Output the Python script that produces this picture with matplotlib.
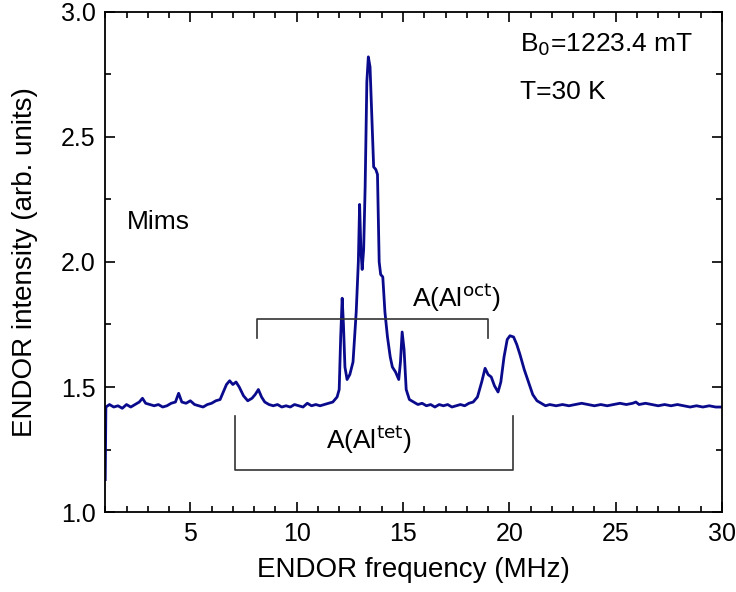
import numpy as np
import matplotlib.pyplot as plt

plt.rcParams['font.family'] = ['Liberation Sans', 'DejaVu Sans']

# spectrum
freq = [1.0, 1.03, 1.2, 1.4, 1.6, 1.8, 2.0, 2.2, 2.4, 2.6, 2.75, 2.9, 3.1, 3.3, 3.5, 3.7, 3.9,
        4.1, 4.3, 4.45, 4.6, 4.8, 5.0, 5.2, 5.4, 5.6, 5.8, 6.0, 6.2, 6.4, 6.55, 6.7, 6.85,
        7.0, 7.15, 7.3, 7.5, 7.7, 7.9, 8.05, 8.2, 8.35, 8.5, 8.7, 8.9, 9.1, 9.3, 9.5, 9.7,
        9.9, 10.1, 10.3, 10.5, 10.7, 10.9, 11.1, 11.3, 11.5, 11.7, 11.9, 12.0, 12.07, 12.14,
        12.2, 12.27, 12.37, 12.5, 12.65, 12.8, 12.9, 12.96, 13.02, 13.08, 13.15, 13.22,
        13.3, 13.37, 13.45, 13.55, 13.62, 13.72, 13.8, 13.88, 13.95, 14.05, 14.15, 14.27,
        14.4, 14.5, 14.65, 14.8, 14.88, 14.96, 15.05, 15.15, 15.3, 15.5, 15.7, 15.9, 16.1,
        16.3, 16.5, 16.7, 16.9, 17.1, 17.3, 17.5, 17.7, 17.9, 18.1, 18.3, 18.5, 18.7, 18.86,
        19.0, 19.15, 19.3, 19.47, 19.6, 19.75, 19.9, 20.03, 20.2, 20.35, 20.5, 20.7, 20.9,
        21.1, 21.3, 21.5, 21.7, 21.9, 22.2, 22.5, 22.8, 23.1, 23.4, 23.7, 24.0, 24.3, 24.6,
        24.9, 25.2, 25.5, 25.8, 25.95, 26.1, 26.4, 26.7, 27.0, 27.3, 27.6, 27.9, 28.2, 28.5,
        28.8, 29.1, 29.4, 29.7, 30.0]
intensity = [1.13, 1.42, 1.43, 1.42, 1.425, 1.415, 1.43, 1.42, 1.43, 1.44, 1.455, 1.435, 1.43,
             1.425, 1.43, 1.42, 1.425, 1.435, 1.44, 1.475, 1.44, 1.435, 1.445, 1.43, 1.425,
             1.42, 1.43, 1.435, 1.445, 1.45, 1.48, 1.51, 1.525, 1.51, 1.52, 1.5, 1.465, 1.445,
             1.455, 1.47, 1.49, 1.46, 1.44, 1.43, 1.425, 1.43, 1.42, 1.425, 1.42, 1.43, 1.425,
             1.42, 1.435, 1.425, 1.43, 1.425, 1.43, 1.435, 1.44, 1.46, 1.49, 1.7, 1.855, 1.75,
             1.58, 1.53, 1.55, 1.6, 1.8, 2.0, 2.23, 2.05, 1.97, 2.05, 2.3, 2.72, 2.82, 2.78,
             2.55, 2.38, 2.37, 2.35, 2.0, 1.95, 1.94, 1.8, 1.7, 1.62, 1.58, 1.56, 1.53, 1.6,
             1.72, 1.65, 1.49, 1.45, 1.44, 1.43, 1.435, 1.425, 1.43, 1.42, 1.43, 1.425, 1.43,
             1.42, 1.425, 1.43, 1.425, 1.435, 1.44, 1.46, 1.52, 1.575, 1.55, 1.54, 1.505, 1.48,
             1.52, 1.62, 1.69, 1.705, 1.70, 1.67, 1.63, 1.57, 1.52, 1.47, 1.445, 1.435, 1.425,
             1.43, 1.425, 1.43, 1.425, 1.43, 1.435, 1.43, 1.425, 1.43, 1.425, 1.43, 1.435,
             1.43, 1.435, 1.44, 1.43, 1.435, 1.43, 1.425, 1.43, 1.425, 1.43, 1.425, 1.42,
             1.425, 1.42, 1.425, 1.42, 1.42]

# hyperfine brackets: (left, right, level, tick end)
oct_bracket = (8.15, 19.0, 1.77, 1.695)
tet_bracket = (7.1, 20.15, 1.17, 1.385)

fig = plt.figure(figsize=(7.36, 5.92), dpi=100)
ax = fig.add_axes([0.143, 0.135, 0.838, 0.845])

ax.plot(freq, intensity, color='#0a0a8c', lw=2)

for l, r, lev, end in [oct_bracket, tet_bracket]:
    ax.plot([l, l, r, r], [end, lev, lev, end], color='#333333', lw=1.2)

ax.text(17.5, 1.79, r'A(Al$^{\rm oct}$)', fontsize=19, ha='center', va='bottom')
ax.text(13.4, 1.29, r'A(Al$^{\rm tet}$)', fontsize=19, ha='center', va='center')
ax.text(2.0, 2.16, 'Mims', fontsize=19, ha='left', va='center')
ax.text(20.5, 2.87, r'B$_0$=1223.4 mT', fontsize=19, ha='left', va='center')
ax.text(20.5, 2.68, 'T=30 K', fontsize=19, ha='left', va='center')

ax.set_xlim(1, 30)
ax.set_ylim(1.0, 3.0)
ax.set_xticks([5, 10, 15, 20, 25, 30])
ax.set_xticks(np.arange(1, 31, 1), minor=True)
ax.set_yticks([1.0, 1.5, 2.0, 2.5, 3.0])
ax.set_yticks(np.arange(1.0, 3.01, 0.25), minor=True)
ax.tick_params(which='both', direction='in', top=True, right=True, labelsize=18)
ax.tick_params(which='major', length=7, width=1.2, pad=7)
ax.tick_params(which='minor', length=4, width=1.2)
for s in ax.spines.values():
    s.set_linewidth(1.3)

ax.set_xlabel('ENDOR frequency (MHz)', fontsize=20, labelpad=8)
ax.set_ylabel('ENDOR intensity (arb. units)', fontsize=20, labelpad=16)

fig.savefig('out.png', dpi=100)
